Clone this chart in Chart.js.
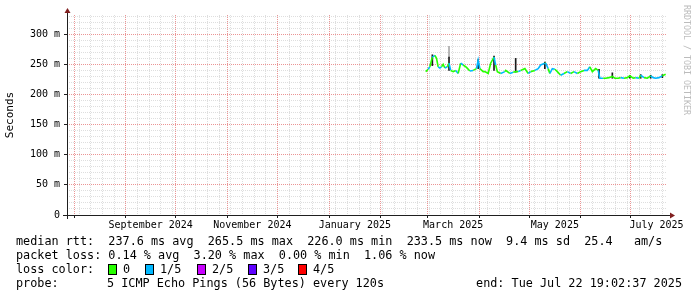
<!DOCTYPE html>
<html><head><meta charset="utf-8">
<script src="https://cdn.jsdelivr.net/npm/chart.js@4/dist/chart.umd.min.js"></script>
<style>
html,body{margin:0;padding:0;background:#fff;}
#wrap{position:relative;width:697px;height:297px;overflow:hidden;font-family:'DejaVu Sans Mono',monospace;background:#fff;}
canvas{position:absolute;left:0;top:0;}
.t{position:absolute;white-space:pre;font-size:11.8px;line-height:14px;color:#000;}
.sq{position:absolute;width:7px;height:9px;border:1px solid #000;top:264px;}
#wm{position:absolute;left:682px;top:5px;writing-mode:vertical-rl;font-size:8.3px;line-height:10px;color:#bcbcbc;white-space:pre;}
</style>
</head><body>
<div id="wrap">
<canvas id="c" width="697" height="297"></canvas>
<div class="t" style="left:16px;top:234px">median rtt:  237.6 ms avg  265.5 ms max  226.0 ms min  233.5 ms now  9.4 ms sd  25.4   am/s</div>
<div class="t" style="left:16px;top:248px">packet loss: 0.14 % avg  3.20 % max  0.00 % min  1.06 % now</div>
<div class="t" style="left:16px;top:262px">loss color:</div>
<div class="sq" style="left:108px;background:#26ff00"></div><div class="t" style="left:123px;top:262px">0</div>
<div class="sq" style="left:145px;background:#00b8ff"></div><div class="t" style="left:160px;top:262px">1/5</div>
<div class="sq" style="left:197px;background:#c800ff"></div><div class="t" style="left:212px;top:262px">2/5</div>
<div class="sq" style="left:248px;background:#5e00ff"></div><div class="t" style="left:263px;top:262px">3/5</div>
<div class="sq" style="left:298px;background:#ff0000"></div><div class="t" style="left:313px;top:262px">4/5</div>
<div class="t" style="left:16px;top:276px">probe:</div>
<div class="t" style="left:107px;top:276px">5 ICMP Echo Pings (56 Bytes) every 120s</div>
<div class="t" style="right:15px;top:276px">end: Tue Jul 22 19:02:37 2025</div>
<div id="wm">RRDTOOL / TOBI OETIKER</div>
</div>
<script>
// ---- data (UTC, "YYYY-MM-DD HH") ----
const rangeStart = '2024-07-27 19';
const rangeEnd = '2025-07-22 19';
const dates = [
 '2025-02-28 00','2025-03-01 12','2025-03-02 12','2025-03-04 00','2025-03-05 12','2025-03-06 12','2025-03-07 12','2025-03-08 12',
 '2025-03-09 12','2025-03-10 12','2025-03-11 12','2025-03-13 00','2025-03-14 00','2025-03-15 00','2025-03-16 12','2025-03-18 00',
 '2025-03-19 12','2025-03-21 00','2025-03-22 12','2025-03-24 12','2025-03-26 12','2025-03-28 12','2025-03-30 12','2025-03-31 12',
 '2025-04-01 12','2025-04-03 12','2025-04-04 12','2025-04-06 12','2025-04-08 00','2025-04-10 00','2025-04-11 00','2025-04-12 00',
 '2025-04-14 00','2025-04-16 12','2025-04-17 00','2025-04-19 12','2025-04-21 12','2025-04-23 00','2025-04-24 12','2025-04-26 00',
 '2025-04-28 12','2025-04-30 12','2025-05-02 00','2025-05-04 12','2025-05-06 12','2025-05-08 00','2025-05-10 12','2025-05-11 00',
 '2025-05-12 12','2025-05-13 12','2025-05-15 00','2025-05-16 12','2025-05-18 00','2025-05-20 00','2025-05-22 00','2025-05-24 00',
 '2025-05-26 00','2025-05-28 00','2025-05-30 00','2025-06-01 00','2025-06-03 00','2025-06-05 00','2025-06-06 12','2025-06-08 00',
 '2025-06-10 00','2025-06-11 12','2025-06-12 12','2025-06-14 12','2025-06-16 00','2025-06-18 00','2025-06-20 00','2025-06-21 12',
 '2025-06-23 12','2025-06-25 00','2025-06-27 00','2025-06-29 00','2025-06-30 12','2025-07-02 12','2025-07-04 00','2025-07-06 00',
 '2025-07-07 00','2025-07-09 00','2025-07-11 00','2025-07-13 00','2025-07-14 12','2025-07-16 00','2025-07-18 00','2025-07-20 00',
 '2025-07-22 00'
];
const medianMs = [
 238,242,246,262,265,260,246,244,
 246,250,244,246,252,240,238,240,
 235,252,249,245,239,240,243,257,
 243,238,238,235,252,262,249,238,
 235,238,240,235,237,238,238,240,
 243,235,238,240,243,249,252,252,
 243,235,243,242,238,232,235,238,
 235,238,235,238,240,240,246,238,
 243,240,227,227,227,228,230,227,
 227,228,227,228,231,227,228,227,
 232,228,227,231,228,227,228,231,
 233.5
];
const lossOf5 = [
 1,0,1,0,1,0,0,1,
 1,0,0,1,0,1,0,0,
 1,0,1,0,0,1,0,1,
 1,0,0,0,0,0,1,0,
 0,1,0,0,1,0,0,1,
 0,0,1,0,1,1,1,0,
 1,0,1,1,0,0,1,0,
 1,0,1,0,0,1,1,0,
 0,0,1,1,0,0,0,0,
 0,0,1,0,0,0,0,1,
 0,1,0,0,1,1,1,1,
 0
];
const smokeDates = ['2025-03-04 00','2025-03-14 00','2025-03-31 12','2025-04-10 00','2025-04-23 00','2025-05-10 12',
                    '2025-06-12 00','2025-06-20 00','2025-06-30 12','2025-07-07 00','2025-07-13 00','2025-07-20 00'];
const smokeLow  = [248,240,243,240,237,243,227,227,227,227,227,228];
const smokeHigh = [266,262,258,264,260,254,242,236,232,233,232,233];
const faintSmokeDates = ['2025-03-14 00'];
const faintLow = [262];
const faintHigh = [280];
const lossColors = ['#26ff00','#00b8ff','#c800ff','#5e00ff','#ff0000'];
const yMax = 332;
const yStep = 10;
const yMajorStep = 50;
const xLabelMonths = [[2024,8,'September 2024'],[2024,10,'November 2024'],[2025,0,'January 2025'],
                      [2025,2,'March 2025'],[2025,4,'May 2025'],[2025,6,'July 2025']];

// ---- helpers ----
const ts = s => Date.UTC(+s.slice(0,4), +s.slice(5,7)-1, +s.slice(8,10), +s.slice(11,13), s===rangeEnd?2:0, s===rangeEnd?37:0);
const DAY = 86400000;
const xMin = ts(rangeStart), xMax = ts(rangeEnd);

const xTickKinds = {};
(function(){
  let d = new Date(xMin); d.setUTCHours(0,0,0,0);
  while (d.getUTCDay() !== 0) d = new Date(d.getTime()+DAY);
  for (let t = d.getTime(); t <= xMax; t += 7*DAY) xTickKinds[t] = 'minor';
  for (let y=2024; y<=2025; y++) for (let m=0; m<12; m++) {
    const t = Date.UTC(y,m,1); if (t>=xMin && t<=xMax) xTickKinds[t] = 'major';
  }
  xLabelMonths.forEach(([y,m,txt]) => {
    const t = (Date.UTC(y,m,1)+Date.UTC(y,m+1,1))/2; xTickKinds[t] = 'label:'+txt;
  });
})();
const xTickValues = Object.keys(xTickKinds).map(Number).sort((a,b)=>a-b);
const yTickValues = []; for (let v=0; v<=yMax; v+=yStep) yTickValues.push(v);

const MINOR = 'rgb(222,222,222)';
const MAJOR = 'rgba(222,79,79,0.6)';

const axesPlugin = {
  id:'rrdAxes',
  afterDraw(chart){
    const {ctx, chartArea:a} = chart;
    ctx.save();
    ctx.strokeStyle='rgb(31,31,31)'; ctx.lineWidth=1;
    ctx.beginPath();
    ctx.moveTo(a.left-4, a.bottom+0.5); ctx.lineTo(a.right+4, a.bottom+0.5);
    ctx.moveTo(a.left+0.5, a.bottom+4); ctx.lineTo(a.left+0.5, a.top-3);
    ctx.stroke();
    ctx.fillStyle='rgb(128,31,31)';
    ctx.beginPath();
    ctx.moveTo(a.right+3, a.bottom-2.5); ctx.lineTo(a.right+8, a.bottom+0.5); ctx.lineTo(a.right+3, a.bottom+3.5); ctx.closePath();
    ctx.fill();
    ctx.beginPath();
    ctx.moveTo(a.left-2.5, a.top-2); ctx.lineTo(a.left+0.5, a.top-7); ctx.lineTo(a.left+3.5, a.top-2); ctx.closePath();
    ctx.fill();
    ctx.restore();
  }
};

Chart.defaults.font.family = "'DejaVu Sans Mono', monospace";
Chart.defaults.font.size = 10;
Chart.defaults.color = '#000';

const xKind = c => xTickKinds[xTickValues[c.index]] || '';
const yIsMajor = c => (yTickValues[c.index] % yMajorStep) === 0;

new Chart(document.getElementById('c'), {
  type:'line',
  data:{
    datasets:[
      {
        type:'line', order:1,
        data: dates.map((d,i)=>({x:ts(d), y:medianMs[i]})),
        borderWidth:1.6, pointRadius:0, tension:0, fill:false,
        borderColor: lossColors[0],
        segment:{ borderColor: c => lossColors[lossOf5[c.p1DataIndex]] }
      },
      {
        type:'bar', order:3, grouped:false,
        data: faintSmokeDates.map((d,i)=>({x:ts(d), y:[faintLow[i], faintHigh[i]]})),
        backgroundColor:'#aaaaaa', barThickness:1, borderWidth:0
      },
      {
        type:'bar', order:2, grouped:false,
        data: smokeDates.map((d,i)=>({x:ts(d), y:[smokeLow[i], smokeHigh[i]]})),
        backgroundColor:'#1a1a1a', barThickness:1, borderWidth:0
      }
    ]
  },
  options:{
    responsive:false, animation:false, devicePixelRatio:1,
    layout:{ padding:{ left:0, top:15, right:30, bottom:62 } },
    plugins:{ legend:{display:false}, tooltip:{enabled:false} },
    scales:{
      x:{
        type:'linear', min:xMin, max:xMax, offset:false,
        afterFit: s => { s.height = 20; },
        afterBuildTicks: s => { s.ticks = xTickValues.map(v=>({value:v})); },
        ticks:{ autoSkip:false, maxRotation:0, minRotation:0, padding:1,
          callback: v => { const k = xTickKinds[v]||''; return k.startsWith('label:') ? k.slice(6) : ''; } },
        grid:{ offset:false, lineWidth:1, drawTicks:true, tickLength:3,
          color: c => { const k = xKind(c); return k==='major'?MAJOR:(k==='minor'?MINOR:'rgba(0,0,0,0)'); },
          tickColor: c => xKind(c)==='major' ? 'rgb(31,31,31)' : 'rgba(0,0,0,0)' },
        border:{ display:false, dash:[1,1] }
      },
      y:{
        min:0, max:yMax,
        afterFit: s => { s.width = 67; },
        afterBuildTicks: s => { s.ticks = yTickValues.map(v=>({value:v})); },
        ticks:{ autoSkip:false, padding:4,
          callback: v => v===0 ? '0' : (v % yMajorStep === 0 ? v+' m' : '') },
        title:{ display:true, text:'Seconds', font:{size:11}, padding:{top:4,bottom:0} },
        grid:{ lineWidth:1, drawTicks:true, tickLength:3,
          color: c => yIsMajor(c) ? MAJOR : MINOR,
          tickColor: c => yIsMajor(c) ? 'rgb(31,31,31)' : 'rgba(0,0,0,0)' },
        border:{ display:false, dash:[1,1] }
      }
    }
  },
  plugins:[axesPlugin]
});
</script>
</body></html>
